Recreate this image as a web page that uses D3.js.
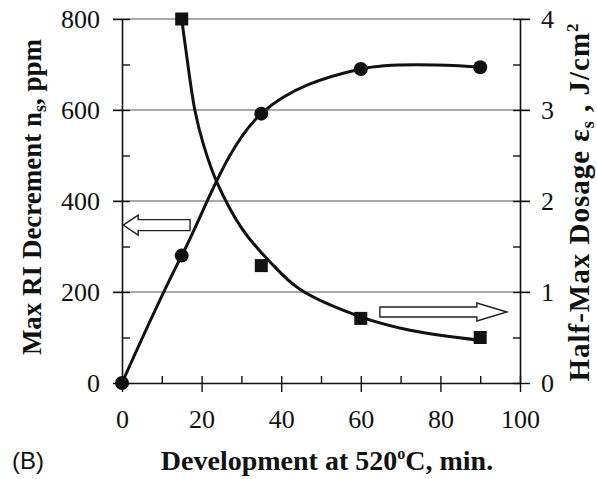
<!DOCTYPE html>
<html><head><meta charset="utf-8">
<script src="https://cdn.jsdelivr.net/npm/d3@7"></script>
<style>
html,body{margin:0;padding:0;background:#fff;}
text{font-family:"Liberation Serif","Times New Roman",serif;fill:#111;}
</style></head>
<body><svg id="chart" width="597" height="479"></svg>
<script>
// ---- data ----
const devTime = [0, 15, 35, 60, 90];                 // min
const riDecrement = [0, 280, 592, 690, 694];          // ppm (left axis, circles)
const dosageTime = [15, 35, 60, 90];                  // min
const halfMaxDosage = [4.0, 1.29, 0.71, 0.50];        // J/cm^2 (right axis, squares)
// fitted curve for dosage
const dosageFitX = [15, 15.8, 18.3, 20.4, 23.8, 30.1, 37.2, 44.7, 59.8, 72.4, 90];
const dosageFitY = [4.0, 3.74, 3.0, 2.63, 2.21, 1.70, 1.33, 1.03, 0.73, 0.58, 0.47];
const xTicks = [0, 20, 40, 60, 80, 100];
const xMinor = [10, 30, 50, 70, 90];
const leftTicks = [0, 200, 400, 600, 800];
const leftMinor = [100, 300, 500, 700];
const rightTicks = [0, 1, 2, 3, 4];
const rightMinor = [0.5, 1.5, 2.5, 3.5];

const svg = d3.select("#chart");
const x = d3.scaleLinear().domain([0, 100]).range([122, 520]);
const yL = d3.scaleLinear().domain([0, 800]).range([383, 19]);
const yR = d3.scaleLinear().domain([0, 4]).range([383, 19]);

// gridlines
svg.append("g").selectAll("line").data(leftTicks.filter(d => d > 0)).join("line")
  .attr("x1", x(0) - 9).attr("x2", x(100) + 10)
  .attr("y1", d => yL(d)).attr("y2", d => yL(d))
  .attr("stroke", "#555").attr("stroke-width", 1.2);

// axes
const axisStyle = g => {
  g.select(".domain").attr("stroke", "#111").attr("stroke-width", 1.6);
  g.selectAll(".tick line").attr("stroke", "#111").attr("stroke-width", 1.4);
  g.selectAll("text").style("font-size", "26px").attr("fill", "#111");
};
// left: outward part of major ticks + labels
svg.append("g").attr("class", "ax-left").attr("transform", `translate(${x(0)},0)`)
  .call(d3.axisLeft(yL).tickValues(leftTicks).tickFormat(d3.format("d")).tickSizeInner(9).tickSizeOuter(0).tickPadding(13))
  .call(axisStyle)
  .call(g => g.selectAll(".tick text").attr("dy", null).attr("dominant-baseline", "central"));
// left: inward ticks (major + minor)
svg.append("g").attr("transform", `translate(${x(0)},0)`)
  .call(d3.axisRight(yL).tickValues(leftTicks.concat(leftMinor)).tickSize(8).tickFormat(""))
  .call(axisStyle).call(g => g.select(".domain").remove());
// right
svg.append("g").attr("class", "ax-right").attr("transform", `translate(${x(100)},0)`)
  .call(d3.axisRight(yR).tickValues(rightTicks).tickFormat(d3.format("d")).tickSizeInner(10).tickSizeOuter(0).tickPadding(11))
  .call(axisStyle)
  .call(g => g.selectAll(".tick text").attr("dy", null).attr("dominant-baseline", "central"));
svg.append("g").attr("transform", `translate(${x(100)},0)`)
  .call(d3.axisLeft(yR).tickValues(rightTicks.concat(rightMinor)).tickSize(7).tickFormat(""))
  .call(axisStyle).call(g => g.select(".domain").remove());
// bottom
svg.append("g").attr("class", "ax-bottom").attr("transform", `translate(0,${yL(0)})`)
  .call(d3.axisBottom(x).tickValues(xTicks).tickFormat(d3.format("d")).tickSizeInner(9).tickSizeOuter(0))
  .call(axisStyle)
  .call(g => g.selectAll(".tick text").attr("dy", null).attr("y", 45));
svg.append("g").attr("transform", `translate(0,${yL(0)})`)
  .call(d3.axisTop(x).tickValues(xTicks.concat(xMinor)).tickSize(7).tickFormat(""))
  .call(axisStyle).call(g => g.select(".domain").remove());

// curves
const lineRI = d3.line().x(d => x(d[0])).y(d => yL(d[1])).curve(d3.curveCatmullRom.alpha(0.5));
svg.append("path").datum(d3.zip(devTime, riDecrement)).attr("d", lineRI)
  .attr("fill", "none").attr("stroke", "#111").attr("stroke-width", 3);
const lineFit = d3.line().x(d => x(d[0])).y(d => yR(d[1])).curve(d3.curveCatmullRom.alpha(0.5));
svg.append("path").datum(d3.zip(dosageFitX, dosageFitY)).attr("d", lineFit)
  .attr("fill", "none").attr("stroke", "#111").attr("stroke-width", 3);

// markers
svg.append("g").selectAll("circle").data(d3.zip(devTime, riDecrement)).join("circle")
  .attr("cx", d => x(d[0])).attr("cy", d => yL(d[1])).attr("r", 7).attr("fill", "#111");
const s = 13;
svg.append("g").selectAll("rect").data(d3.zip(dosageTime, halfMaxDosage)).join("rect")
  .attr("x", d => x(d[0]) - s / 2).attr("y", d => yR(d[1]) - s / 2)
  .attr("width", s).attr("height", s).attr("fill", "#111");

// open arrows
function arrow(tipX, tailX, yPix, headLen, hh, bh) {
  const dir = tailX > tipX ? 1 : -1, hb = tipX + dir * headLen;
  const pts = [[tipX, yPix], [hb, yPix - hh], [hb, yPix - bh], [tailX, yPix - bh],
               [tailX, yPix + bh], [hb, yPix + bh], [hb, yPix + hh]];
  svg.append("polygon").attr("points", pts.map(p => p.join(",")).join(" "))
    .attr("fill", "#fff").attr("stroke", "#222").attr("stroke-width", 1.4);
}
arrow(x(0.3), x(17.1), yL(347), 15, 10, 5.5);
arrow(x(96.7), x(64.8), yR(0.78), 30, 9, 5);

// titles
const xt = svg.append("text").attr("x", 327).attr("y", 470).attr("text-anchor", "middle")
  .style("font-size", "28px").style("font-weight", "bold");
xt.append("tspan").text("Development at 520");
xt.append("tspan").text("o").attr("dy", -11).style("font-size", "16px");
xt.append("tspan").text("C, min.").attr("dy", 11);

const yt = svg.append("text").attr("transform", "translate(41,197) rotate(-90)").attr("text-anchor", "middle")
  .style("font-size", "27px").style("font-weight", "bold");
yt.append("tspan").text("Max RI Decrement n");
yt.append("tspan").text("s").attr("dy", 5).style("font-size", "18px");
yt.append("tspan").text(", ppm").attr("dy", -5);

const rtT = svg.append("text").attr("transform", "translate(589,202) rotate(-90)").attr("text-anchor", "middle")
  .style("font-size", "29px").style("font-weight", "bold").style("letter-spacing", "1px");
rtT.append("tspan").text("Half-Max Dosage ε");
rtT.append("tspan").text("s").attr("dy", 5).style("font-size", "18px");
rtT.append("tspan").text(" , J/cm").attr("dy", -5);
rtT.append("tspan").text("2").attr("dy", -11).style("font-size", "17px");

svg.append("text").attr("x", 12).attr("y", 469).text("(B)")
  .style("font-family", "'Liberation Sans', Arial, sans-serif").style("font-size", "24px").attr("fill", "#222");
</script></body></html>
